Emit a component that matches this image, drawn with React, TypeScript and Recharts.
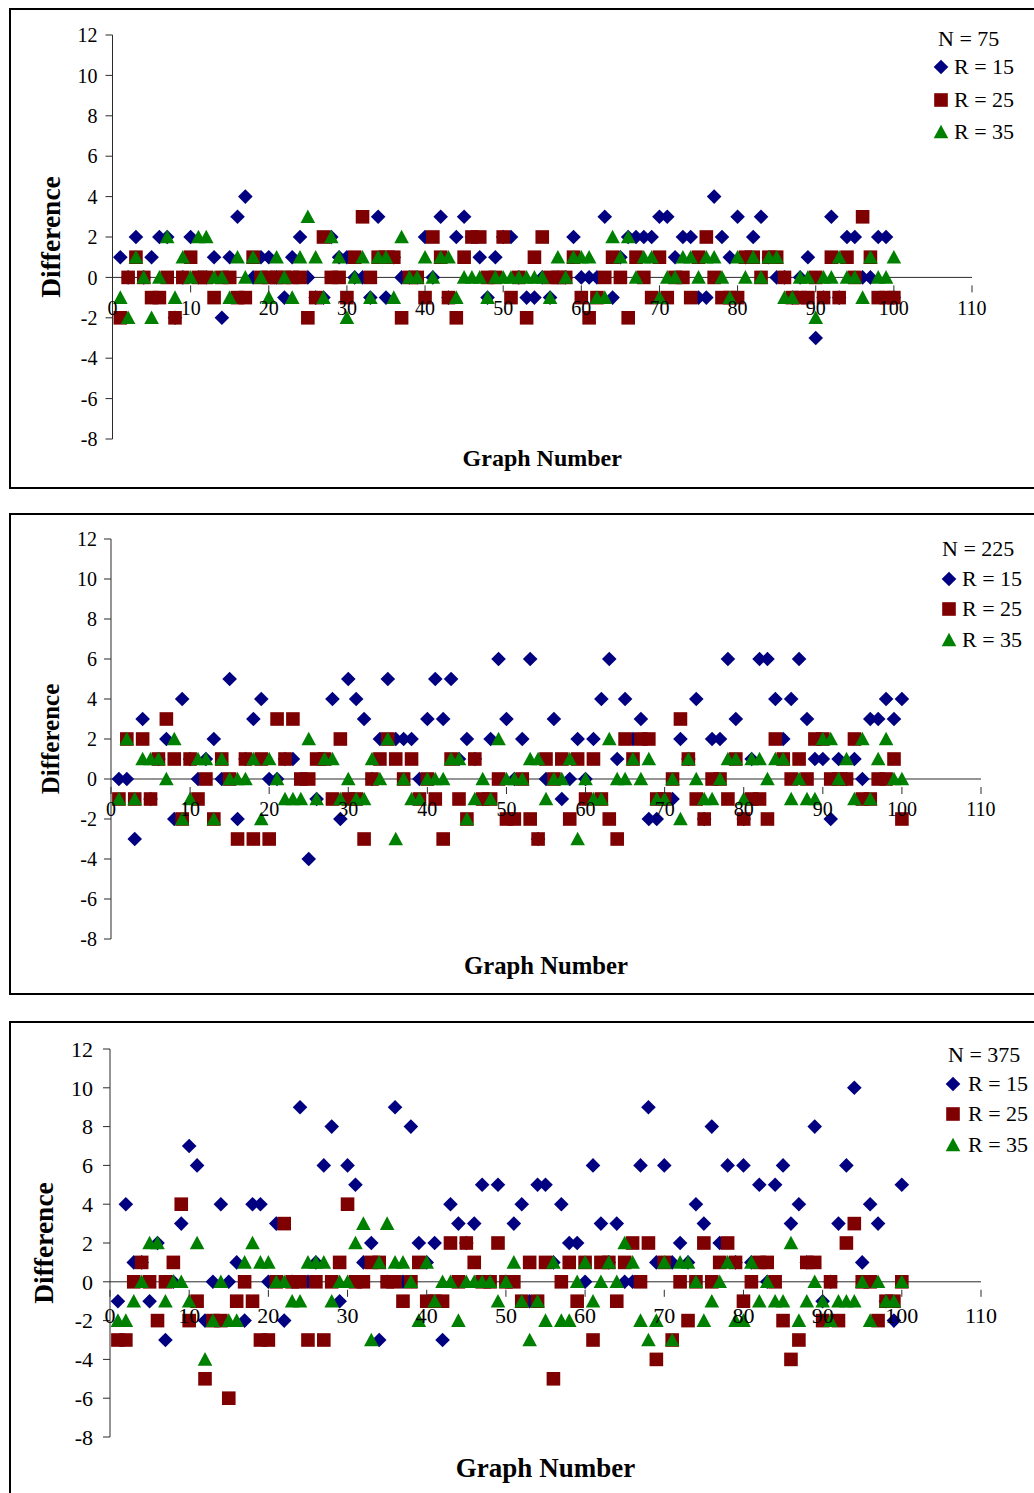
import { ScatterChart, Scatter, XAxis, YAxis, ReferenceLine, Legend } from 'recharts'

const FONT = '"Liberation Serif", "Times New Roman", serif'
const NAVY = '#000080'
const MAROON = '#7f0000'
const GREEN = '#008000'
const AXIS = '#2b2b2b'

const xTicks = [0, 10, 20, 30, 40, 50, 60, 70, 80, 90, 100, 110]
const yTicks = [-8, -6, -4, -2, 0, 2, 4, 6, 8, 10, 12]

// N = 75
const n75r15 = [1,0,2,0,1,2,2,-2,0,2,0,0,1,-2,1,3,4,0,1,1,0,-1,1,2,0,-1,-1,2,1,1,0,0,-1,3,-1,1,0,0,0,2,0,3,-1,2,3,2,1,-1,1,2,2,0,-1,-1,0,-1,0,0,2,0,0,0,3,-1,1,2,2,2,2,3,3,1,2,2,-1,-1,4,2,1,3,1,2,3,1,0,0,-1,0,1,-3,-1,3,-1,2,2,0,0,2,2,-1]
const n75r25 = [-2,0,1,0,-1,-1,0,-2,0,1,0,0,-1,0,0,-1,-1,1,0,0,0,0,0,0,-2,-1,2,0,0,-1,1,3,0,1,1,1,-2,0,0,-1,2,1,-1,-2,1,2,2,0,0,2,-1,0,-2,1,2,0,0,0,1,-1,-2,-1,0,1,0,-2,1,0,-1,1,-1,0,0,-1,1,2,0,-1,-1,-1,1,1,0,1,1,0,-1,-1,-1,0,-1,1,-1,1,0,3,1,-1,-1,-1]
const n75r35 = [-1,-2,1,0,-2,0,2,-1,1,0,2,2,0,0,-1,1,0,1,0,-1,1,0,-1,1,3,1,-1,2,1,-2,0,1,-1,1,1,-1,2,0,0,1,0,1,1,-1,0,0,0,-1,0,0,0,0,0,0,0,-1,1,0,1,1,1,-1,-1,2,1,2,0,1,1,-1,0,0,1,1,0,1,1,0,-1,1,0,1,0,1,1,-1,-1,0,0,-2,0,0,1,0,0,-1,1,0,0,1]

// N = 225
const n225r15 = [0,0,-3,3,-1,1,2,-2,4,1,0,1,2,0,5,-2,1,3,4,0,0,1,1,0,-4,-1,1,4,-2,5,4,3,0,2,5,2,2,2,0,3,5,3,5,1,2,1,-1,2,6,3,0,2,6,-3,0,3,-1,0,2,0,2,4,6,1,4,2,3,-2,-2,-1,-1,2,1,4,-2,2,2,6,3,-2,1,6,6,4,2,4,6,3,1,1,-2,1,0,1,0,3,3,4,3,4]
const n225r25 = [-1,2,-1,2,-1,1,3,1,-2,1,-1,0,-2,1,0,-3,1,-3,1,-3,3,1,3,0,0,1,1,-1,2,-1,-1,-3,0,1,2,1,0,1,-1,0,-1,-3,1,-1,-2,1,-1,-1,0,-2,-2,0,-2,-3,1,0,1,-2,1,-1,1,-1,-2,-3,2,1,2,2,-1,-1,0,3,1,-1,-2,0,0,-1,1,-2,-1,-1,-2,2,1,0,1,0,2,2,0,0,0,2,-1,-1,0,0,1,-2]
const n225r35 = [-1,2,-1,1,1,1,0,2,-2,-1,1,1,-2,1,0,0,0,1,-2,1,0,-1,-1,-1,2,-1,1,1,-1,0,-1,-1,1,0,2,-3,0,-1,-1,0,0,0,1,1,-2,-1,0,-1,2,0,0,0,1,1,-1,0,0,1,-3,0,-1,-1,2,0,0,1,0,1,-1,-1,0,-2,1,0,-1,-1,0,1,1,-1,1,1,0,1,1,-1,0,-1,-1,2,2,0,1,-1,2,-1,1,2,0,0]

// N = 375
const n375r15 = [-1,4,1,1,-1,2,-3,0,3,7,6,-2,0,4,0,1,-2,4,4,0,3,-2,0,9,0,1,6,8,-1,6,5,1,2,-3,0,9,0,8,2,1,2,-3,4,3,2,3,5,0,5,0,3,4,-1,5,5,1,4,2,2,0,6,3,1,3,0,0,6,9,1,6,1,2,1,4,3,8,2,6,1,6,1,5,0,5,6,3,4,1,8,-1,0,3,6,10,1,4,3,-1,-2,5]
const n375r25 = [-3,-3,0,1,0,-2,0,1,4,-2,-1,-5,-2,-2,-6,-1,0,-1,-3,-3,0,3,0,0,-3,0,-3,0,1,4,0,0,1,1,0,0,-1,0,1,-1,-1,-1,2,0,2,1,0,0,2,0,0,-1,1,-1,1,-5,0,1,-1,1,-3,1,1,-1,1,2,0,2,-4,1,-3,0,-2,0,2,0,1,2,1,-1,0,1,1,0,-2,-4,-3,1,1,-2,0,-2,2,3,0,0,-2,-1,-1,0]
const n375r35 = [-2,-2,-1,0,2,2,-1,0,0,-1,2,-4,-2,0,-2,-2,1,2,1,1,0,0,-1,-1,1,1,1,-1,0,0,2,3,-3,1,3,1,1,0,-2,1,-1,0,0,-2,0,0,0,0,-1,0,1,-1,-3,-1,-2,1,-2,-2,0,1,-1,0,1,0,2,1,-2,-3,-2,1,-3,1,1,0,-2,-1,0,1,-2,-2,1,-1,0,-1,-1,2,-2,-1,0,-1,-2,-1,-1,-1,0,-2,0,-1,-1,0]

const toPoints = (values: number[]) => values.map((y, i) => ({ x: i + 1, y }))

const Diamond = ({ cx, cy }: any) => (
  <polygon points={`${cx},${cy - 7.3} ${cx + 7.3},${cy} ${cx},${cy + 7.3} ${cx - 7.3},${cy}`} fill={NAVY} />
)
const Square = ({ cx, cy }: any) => (
  <rect x={cx - 6.8} y={cy - 6.8} width={13.6} height={13.6} fill={MAROON} />
)
const Triangle = ({ cx, cy }: any) => (
  <polygon points={`${cx},${cy - 7.3} ${cx + 7.3},${cy + 6.3} ${cx - 7.3},${cy + 6.3}`} fill={GREEN} />
)

const LEGEND_MARKS = [Diamond, Square, Triangle]
const LEGEND_NAMES = ['R = 15', 'R = 25', 'R = 35']

interface PanelProps {
  top: number
  height: number
  plotLeft: number
  plotRight: number
  plotTop: number
  plotBottom: number
  fontSize: number
  tickGap: number
  yTickMargin: number
  titleSize: number
  titleY: number
  diffSize: number
  diffX: number
  legendTitle: string
  legendTitleX: number
  legendTitleY: number
  legendMarkX: number
  legendTextX: number
  legendRows: number[]
  r15: number[]
  r25: number[]
  r35: number[]
}

function Panel(p: PanelProps) {
  const yAxisWidth = 60
  const xAxisHeight = 40
  const chartHeight = p.height
  const zeroOffset = ((p.plotBottom - p.plotTop) * 8) / 20

  // the horizontal axis crosses at zero, so its ticks are moved up from the bottom of the plot
  const CrossingTick = ({ x, y, payload }: any) => {
    const y0 = y - zeroOffset
    return (
      <g>
        <line x1={x} x2={x} y1={y0} y2={y0 + 7} stroke={AXIS} strokeWidth={1} />
        <text x={x} y={y0 + p.tickGap} textAnchor="middle" fontFamily={FONT} fontSize={p.fontSize} fill="#000">
          {payload.value}
        </text>
      </g>
    )
  }

  const renderLegend = () => (
    <div style={{ position: 'absolute', left: 0, top: 0, fontFamily: FONT, fontSize: 22, color: '#000', lineHeight: 1, whiteSpace: 'nowrap' }}>
      <div style={{ position: 'absolute', left: p.legendTitleX, top: p.legendTitleY - 11 }}>{p.legendTitle}</div>
      {LEGEND_NAMES.map((name, i) => {
        const Mark = LEGEND_MARKS[i]
        return (
          <div key={name}>
            <svg width={20} height={20} style={{ position: 'absolute', left: p.legendMarkX - 10, top: p.legendRows[i] - 10 }}>
              <Mark cx={10} cy={10} />
            </svg>
            <div style={{ position: 'absolute', left: p.legendTextX, top: p.legendRows[i] - 11 }}>{name}</div>
          </div>
        )
      })}
    </div>
  )

  return (
    <div style={{ position: 'absolute', left: 0, top: p.top, width: 1034, height: chartHeight }}>
      <ScatterChart
        width={1034}
        height={chartHeight}
        margin={{
          left: p.plotLeft - yAxisWidth,
          right: 1034 - p.plotRight,
          top: p.plotTop,
          bottom: chartHeight - p.plotBottom - xAxisHeight,
        }}
      >
        <ReferenceLine y={0} stroke={AXIS} strokeWidth={1} />
        <YAxis
          type="number"
          dataKey="y"
          width={yAxisWidth}
          domain={[-8, 12]}
          ticks={yTicks}
          interval={0}
          allowDataOverflow
          stroke={AXIS}
          tickSize={7}
          tickMargin={p.yTickMargin}
          tick={{ fill: '#000', fontSize: p.fontSize, fontFamily: FONT }}
          label={{
            value: 'Difference',
            angle: -90,
            position: 'insideLeft',
            offset: p.diffX - (p.plotLeft - yAxisWidth),
            style: { fontFamily: FONT, fontWeight: 'bold', fontSize: p.diffSize, fill: '#000', textAnchor: 'middle' },
          }}
        />
        <Scatter data={toPoints(p.r15)} shape={Diamond} isAnimationActive={false} />
        <Scatter data={toPoints(p.r25)} shape={Square} isAnimationActive={false} />
        <Scatter data={toPoints(p.r35)} shape={Triangle} isAnimationActive={false} />
        <XAxis
          type="number"
          dataKey="x"
          height={xAxisHeight}
          domain={[0, 110]}
          ticks={xTicks}
          interval={0}
          axisLine={false}
          tickLine={false}
          tick={<CrossingTick />}
          label={{
            value: 'Graph Number',
            position: 'insideTop',
            offset: p.titleY,
            style: { fontFamily: FONT, fontWeight: 'bold', fontSize: p.titleSize, fill: '#000' },
          }}
        />
        <Legend content={renderLegend} wrapperStyle={{ left: 0, top: 0, width: 0, height: 0 }} />
      </ScatterChart>
    </div>
  )
}

const Frame = ({ top, height }: { top: number; height: number }) => (
  <div style={{ position: 'absolute', left: 9, top, width: 1060, height, border: '2px solid #000', boxSizing: 'border-box' }} />
)

export default function App() {
  return (
    <div style={{ position: 'absolute', left: 0, top: 0, width: 1034, height: 1493, overflow: 'hidden', background: '#fff' }}>
      <Frame top={8} height={481} />
      <Frame top={513} height={482} />
      <Frame top={1021} height={520} />
      <Panel
        top={0} height={490}
        plotLeft={112.5} plotRight={972} plotTop={35} plotBottom={439}
        fontSize={20} tickGap={30} yTickMargin={8} titleSize={24} titleY={10} diffSize={27.5} diffX={50}
        legendTitle="N = 75" legendTitleX={938} legendTitleY={39}
        legendMarkX={941} legendTextX={954} legendRows={[67, 100, 132]}
        r15={n75r15} r25={n75r25} r35={n75r35}
      />
      <Panel
        top={500} height={500}
        plotLeft={111} plotRight={981} plotTop={39} plotBottom={439}
        fontSize={20} tickGap={29} yTickMargin={7} titleSize={24.7} titleY={17} diffSize={25} diffX={50}
        legendTitle="N = 225" legendTitleX={942} legendTitleY={49}
        legendMarkX={949} legendTextX={962} legendRows={[79, 109, 140]}
        r15={n225r15} r25={n225r25} r35={n225r35}
      />
      <Panel
        top={1000} height={493}
        plotLeft={110} plotRight={981} plotTop={49} plotBottom={437}
        fontSize={22} tickGap={33} yTickMargin={10} titleSize={27} titleY={21} diffSize={27.5} diffX={43}
        legendTitle="N = 375" legendTitleX={948} legendTitleY={55}
        legendMarkX={953} legendTextX={968} legendRows={[84, 114, 145]}
        r15={n375r15} r25={n375r25} r35={n375r35}
      />
    </div>
  )
}
